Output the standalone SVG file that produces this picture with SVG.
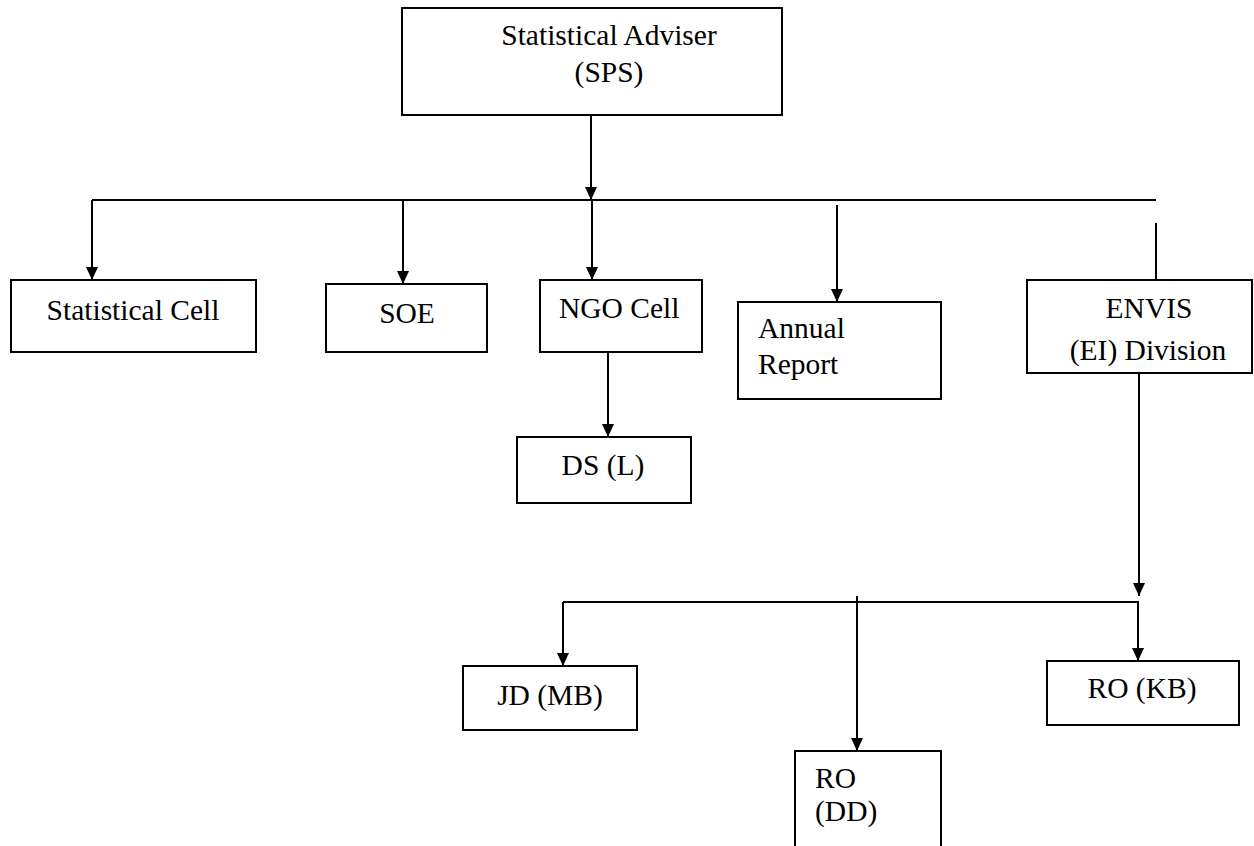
<svg xmlns="http://www.w3.org/2000/svg" width="1254" height="846" viewBox="0 0 1254 846">
<defs>
<marker id="arr" markerUnits="userSpaceOnUse" markerWidth="13" markerHeight="12" refX="13" refY="6" orient="auto">
<path d="M0,0 L13,6 L0,12 z" fill="#000"/>
</marker>
<style>
.box{fill:#fff;stroke:#000;stroke-width:2}
.t{font-family:"Liberation Serif","Times New Roman",serif;font-size:29.5px;fill:#000}
.c{text-anchor:middle}
.ln{fill:none;stroke:#000;stroke-width:2}
.a{marker-end:url(#arr)}
</style>
</defs>
<rect width="1254" height="846" fill="#fff"/>
<g id="connectors">
<line class="ln a" x1="591" y1="115" x2="591" y2="200"/>
<line class="ln" x1="92" y1="200" x2="1156" y2="200"/>
<line class="ln a" x1="92" y1="200" x2="92" y2="280"/>
<line class="ln a" x1="403" y1="200" x2="403" y2="284"/>
<line class="ln a" x1="592" y1="200" x2="592" y2="280"/>
<line class="ln a" x1="837" y1="205" x2="837" y2="302"/>
<line class="ln" x1="1156" y1="223" x2="1156" y2="280"/>
<line class="ln a" x1="608" y1="352" x2="608" y2="437"/>
<line class="ln a" x1="1139" y1="373" x2="1139" y2="596"/>
<line class="ln" x1="563" y1="602" x2="1139" y2="602"/>
<line class="ln a" x1="563" y1="602" x2="563" y2="666"/>
<line class="ln a" x1="857" y1="596" x2="857" y2="751"/>
<line class="ln a" x1="1138" y1="602" x2="1138" y2="661"/>
</g>
<g id="adviser">
<rect class="box" x="402" y="8" width="380" height="107"/>
<text class="t c" x="609" y="45">Statistical Adviser</text>
<text class="t c" x="609" y="82">(SPS)</text>
</g>
<g id="statcell">
<rect class="box" x="11" y="280" width="245" height="72"/>
<text class="t c" x="133" y="320">Statistical Cell</text>
</g>
<g id="soe">
<rect class="box" x="326" y="284" width="161" height="68"/>
<text class="t c" x="407" y="323">SOE</text>
</g>
<g id="ngo">
<rect class="box" x="540" y="280" width="162" height="72"/>
<text class="t" x="559" y="318">NGO Cell</text>
</g>
<g id="annual">
<rect class="box" x="738" y="302" width="203" height="97"/>
<text class="t" x="758" y="338">Annual</text>
<text class="t" x="758" y="374">Report</text>
</g>
<g id="envis">
<rect class="box" x="1027" y="280" width="225" height="93"/>
<text class="t c" x="1149" y="318">ENVIS</text>
<text class="t c" x="1148" y="360">(EI) Division</text>
</g>
<g id="dsl">
<rect class="box" x="517" y="437" width="174" height="66"/>
<text class="t c" x="603" y="475">DS (L)</text>
</g>
<g id="jdmb">
<rect class="box" x="463" y="666" width="174" height="64"/>
<text class="t c" x="550" y="705">JD (MB)</text>
</g>
<g id="rokb">
<rect class="box" x="1047" y="661" width="192" height="64"/>
<text class="t c" x="1142" y="698">RO (KB)</text>
</g>
<g id="rodd">
<rect class="box" x="795" y="751" width="146" height="110"/>
<text class="t" x="815" y="788">RO</text>
<text class="t" x="815" y="821">(DD)</text>
</g>
</svg>
